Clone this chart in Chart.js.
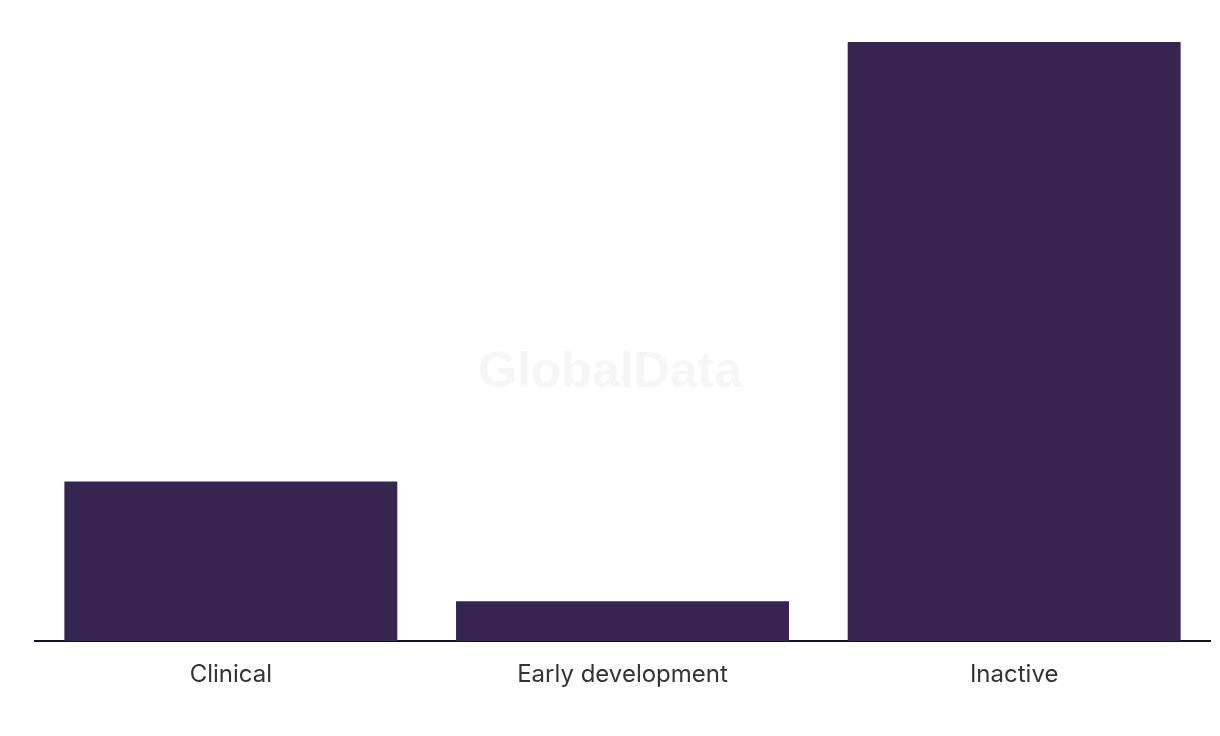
<!DOCTYPE html>
<html>
<head>
<meta charset="utf-8">
<script src="https://cdn.jsdelivr.net/npm/chart.js@4/dist/chart.umd.min.js"></script>
<style>
  html, body { margin: 0; padding: 0; background: #ffffff; }
  #wrap { position: relative; width: 1220px; height: 736px; }
  #wm { position: absolute; left: 0; top: 340px; width: 1220px; text-align: center;
        font-family: "Liberation Sans", Arial, sans-serif; font-weight: bold; font-size: 50px;
        color: #f6f6f6; line-height: 60px; pointer-events: none; }
</style>
</head>
<body>
<div id="wrap">
  <div id="wm">GlobalData</div>
  <canvas id="c" width="1220" height="736"></canvas>
</div>
<script>
const categories = ["Clinical", "Early development", "Inactive"];
const values = [4, 1, 15];

new Chart(document.getElementById("c"), {
  type: "bar",
  data: {
    labels: categories,
    datasets: [{
      data: values,
      backgroundColor: "#362451",
      borderWidth: 0,
      barPercentage: 0.85,
      categoryPercentage: 1.0
    }]
  },
  options: {
    responsive: false,
    animation: false,
    devicePixelRatio: 1,
    layout: { padding: { left: 35, right: 10, top: 42, bottom: 28 } },
    plugins: { legend: { display: false }, tooltip: { enabled: false } },
    scales: {
      x: {
        grid: { display: false, drawTicks: false, tickLength: 0 },
        border: { display: true, color: "#141420", width: 2 },
        ticks: { color: "#333333", font: { family: "Inter, 'Noto Sans', sans-serif", size: 24 }, padding: 19 }
      },
      y: {
        display: false,
        min: 0,
        max: 15
      }
    }
  }
});
</script>
</body>
</html>
